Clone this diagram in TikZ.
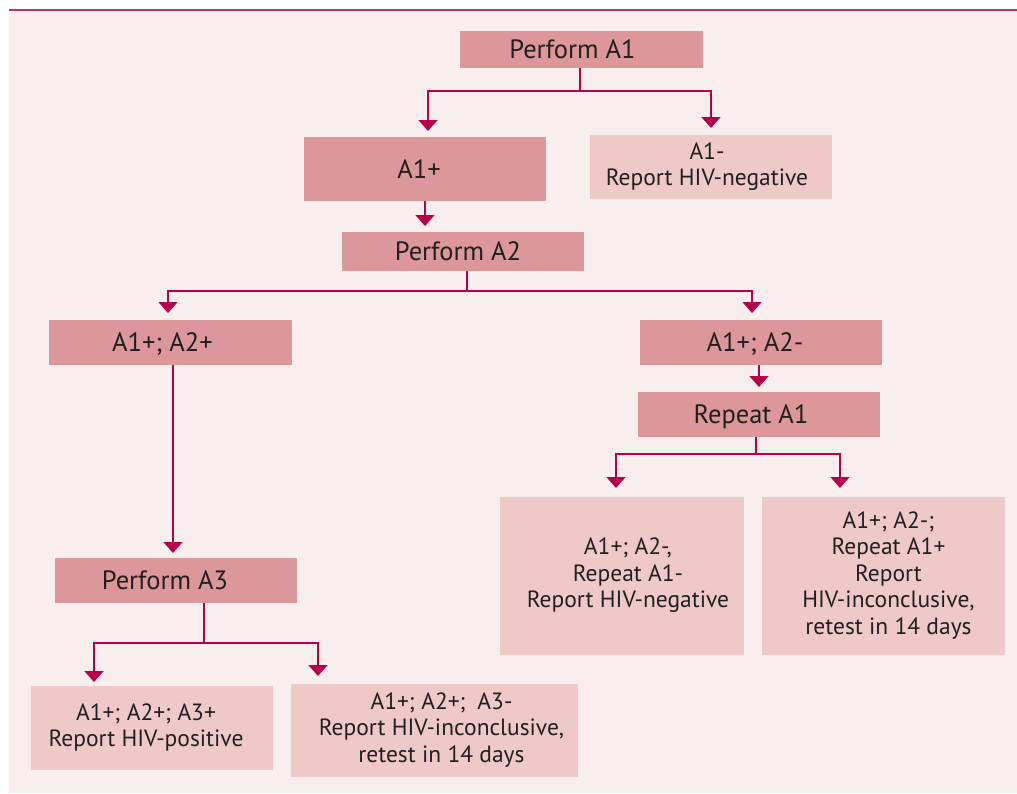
\documentclass[tikz,border=0pt]{standalone}
\usepackage{fontspec}
\setmainfont{PT Sans}
\usetikzlibrary{arrows.meta}
\definecolor{panel}{HTML}{F9EEEE}
\definecolor{darkbox}{HTML}{DB9799}
\definecolor{lightbox}{HTML}{EFC9C8}
\definecolor{conn}{HTML}{B8004A}
\definecolor{rule}{HTML}{B8355F}
\definecolor{txt}{HTML}{231F20}
% shift the text of a box horizontally by #1 inside its box
\newcommand\bt[2]{\hspace*{#1}\hspace*{#1}\begin{tabular}{@{}c@{}}#2\end{tabular}}
\newcommand\sh[2]{\hspace*{#1}\hspace*{#1}#2}
\tikzset{
  box/.style={inner sep=0pt, text=txt, anchor=center},
  dbox/.style={box, fill=darkbox, font=\fontsize{26.5}{31}\selectfont, text height=18.5pt, text depth=0pt},
  lbox/.style={box, fill=lightbox, font=\fontsize{23.5}{26.5}\selectfont},
  conline/.style={draw=conn, line width=1.6pt},
  arr/.style={conline, -{Triangle[width=19pt,length=11pt]}},
}
\begin{document}
\begin{tikzpicture}[x=1pt,y=-1pt]
\useasboundingbox (0,0) rectangle (1017,793);
\fill[white] (0,0) rectangle (1017,793);
\fill[panel] (9,10) rectangle (1017,793);
\draw[rule, line width=2pt] (9,10) -- (1017,10);

% boxes
\node[dbox, minimum width=243pt, minimum height=37pt] (P1) at (581.5,49.5) {\sh{-9pt}{Perform A1}};
\node[dbox, minimum width=242pt, minimum height=64pt] (A1p) at (425,169) {\sh{-6pt}{A1+}};
\node[lbox, minimum width=242pt, minimum height=64pt] (A1n) at (711,167) {\bt{-4pt}{A1-\\Report HIV-negative}};
\node[dbox, minimum width=242pt, minimum height=39pt] (P2) at (463,251.5) {\sh{-5pt}{Perform A2}};
\node[dbox, minimum width=243pt, minimum height=45pt] (A12p) at (170.5,342.5) {\sh{-8pt}{A1+; A2+}};
\node[dbox, minimum width=242pt, minimum height=45pt] (A12n) at (761,342.5) {\sh{-6pt}{A1+; A2-}};
\node[dbox, minimum width=242pt, minimum height=45pt] (R1) at (759,414.5) {\sh{-8pt}{Repeat A1}};
\node[lbox, minimum width=244pt, minimum height=158pt] (Neg2) at (622,576) {\bt{6pt}{A1+; A2-,\\Repeat A1-\\Report HIV-negative}};
\node[lbox, minimum width=243pt, minimum height=158pt] (Inc2) at (883.5,576) {\bt{5pt}{A1+; A2-;\\Repeat A1+\\Report\\HIV-inconclusive,\\retest in 14 days}};
\node[dbox, minimum width=242pt, minimum height=45pt] (P3) at (176,580.5) {\sh{-11pt}{Perform A3}};
\node[lbox, minimum width=242pt, minimum height=84pt] (Pos) at (152,728) {\bt{-6pt}{A1+; A2+; A3+\\Report HIV-positive}};
\node[lbox, minimum width=287pt, minimum height=93pt] (Inc3) at (434.5,730.5) {\bt{7pt}{A1+; A2+;\enspace A3-\\Report HIV-inconclusive,\\retest in 14 days}};

% junction and tip coordinates
\coordinate (j1) at (580,91);
\coordinate (t1a) at (428,131);
\coordinate (t1b) at (711,128);
\coordinate (t2) at (425,226);
\coordinate (j2) at (467,291);
\coordinate (t2a) at (168,313);
\coordinate (t2b) at (752,313);
\coordinate (t3) at (173,553);
\coordinate (t4) at (759,387);
\coordinate (j4) at (756,454);
\coordinate (t4a) at (616,488);
\coordinate (t4b) at (840,488);
\coordinate (j5) at (204,643);
\coordinate (t5a) at (94,682);
\coordinate (t5b) at (318,676);

% connectors
\draw[conline] (P1.south -| j1) -- (j1);
\draw[arr] (j1) -| (t1a);
\draw[arr] (j1) -| (t1b);
\draw[arr] (A1p.south -| t2) -- (t2);
\draw[conline] (P2.south -| j2) -- (j2);
\draw[arr] (j2) -| (t2a);
\draw[arr] (j2) -| (t2b);
\draw[arr] (A12p.south -| t3) -- (t3);
\draw[arr] (A12n.south -| t4) -- (t4);
\draw[conline] (R1.south -| j4) -- (j4);
\draw[arr] (j4) -| (t4a);
\draw[arr] (j4) -| (t4b);
\draw[conline] (P3.south -| j5) -- (j5);
\draw[arr] (j5) -| (t5a);
\draw[arr] (j5) -| (t5b);
\end{tikzpicture}
\end{document}
